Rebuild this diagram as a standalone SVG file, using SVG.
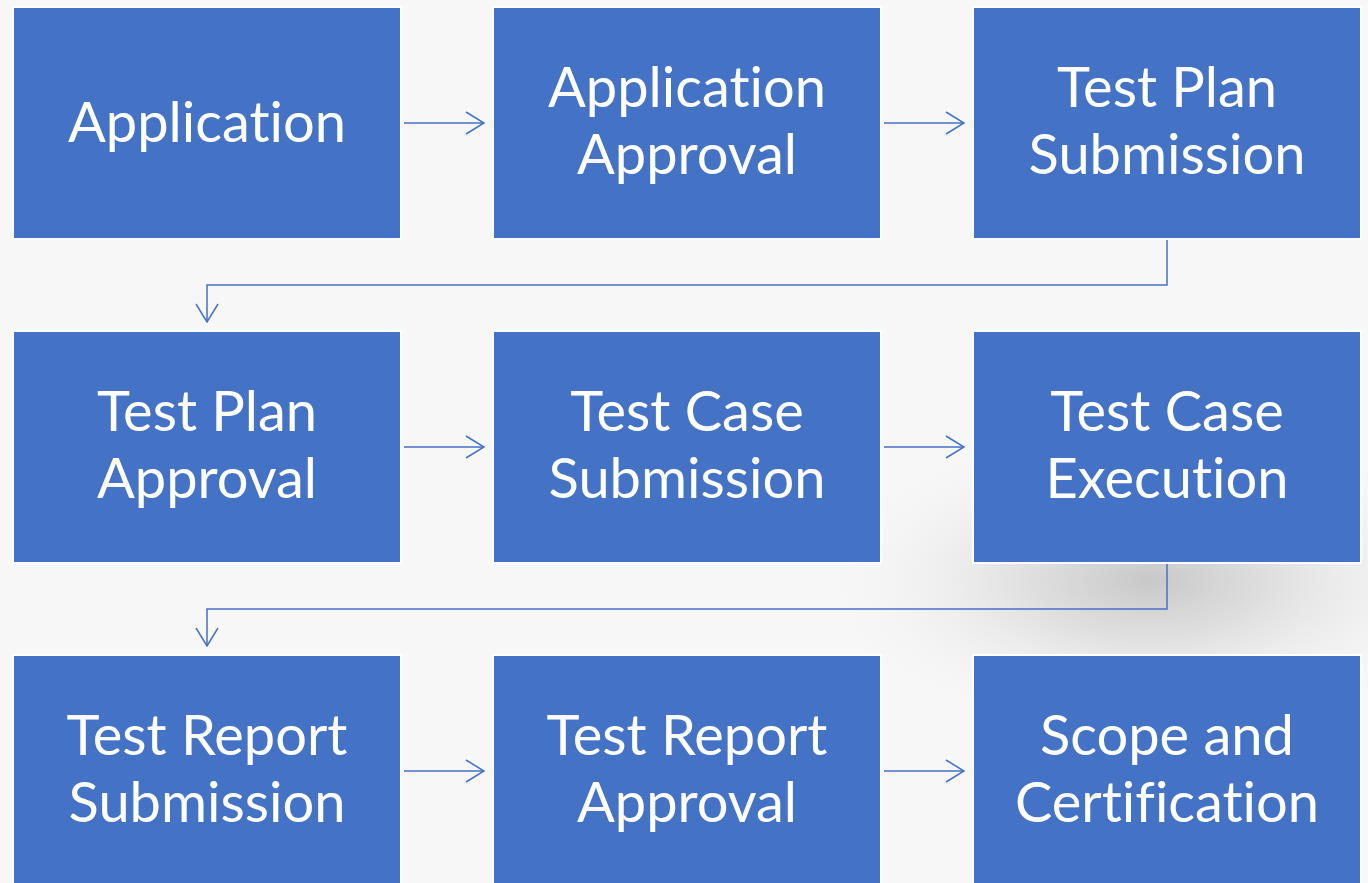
<svg xmlns="http://www.w3.org/2000/svg" width="1368" height="883" viewBox="0 0 1368 883">
  <defs>
    <radialGradient id="shade" cx="1150" cy="580" r="200" gradientUnits="userSpaceOnUse" gradientTransform="translate(1150 580) scale(1.7 0.8) translate(-1150 -580)">
      <stop offset="0" stop-color="#c8c8c8"/>
      <stop offset="0.35" stop-color="#dcdcdc" stop-opacity="0.9"/>
      <stop offset="1" stop-color="#f7f7f7" stop-opacity="0"/>
    </radialGradient>
    <marker id="open" viewBox="0 0 20 24" refX="19" refY="12" markerWidth="20" markerHeight="24" markerUnits="userSpaceOnUse" orient="auto">
      <path d="M1 1 L19 12 L1 23" fill="none" stroke="#4472C4" stroke-width="1.5"/>
    </marker>
    <style>
      .box { fill: #4472C4; stroke: #ffffff; stroke-width: 2; }
      .lbl { fill: #ffffff; font-family: Lato, "Open Sans", sans-serif; font-size: 56px; text-anchor: middle; font-variant-ligatures: none; font-feature-settings: "liga" 0; }
      .conn { fill: none; stroke: #4472C4; stroke-width: 1.5; marker-end: url(#open); }
    </style>
  </defs>

  <!-- background -->
  <rect width="1368" height="883" fill="#f7f7f7"/>
  <rect width="1368" height="883" fill="url(#shade)"/>

  <!-- connectors -->
  <g id="connectors">
    <path class="conn" d="M404 123 H484"/>
    <path class="conn" d="M884 123 H964"/>
    <path class="conn" d="M1167 240 V285 H207 V322"/>
    <path class="conn" d="M404 447 H484"/>
    <path class="conn" d="M884 447 H964"/>
    <path class="conn" d="M1167 564 V609 H207 V646"/>
    <path class="conn" d="M404 771 H484"/>
    <path class="conn" d="M884 771 H964"/>
  </g>

  <!-- row 1 -->
  <g id="application">
    <rect class="box" x="13" y="7" width="388" height="232"/>
    <text class="lbl" x="207" y="142">Application</text>
  </g>
  <g id="application-approval">
    <rect class="box" x="493" y="7" width="388" height="232"/>
    <text class="lbl" x="687" y="107">Application</text>
    <text class="lbl" x="687" y="174">Approval</text>
  </g>
  <g id="test-plan-submission">
    <rect class="box" x="973" y="7" width="388" height="232"/>
    <text class="lbl" x="1167" y="107">Test Plan</text>
    <text class="lbl" x="1167" y="174">Submission</text>
  </g>

  <!-- row 2 -->
  <g id="test-plan-approval">
    <rect class="box" x="13" y="331" width="388" height="232"/>
    <text class="lbl" x="207" y="431">Test Plan</text>
    <text class="lbl" x="207" y="498">Approval</text>
  </g>
  <g id="test-case-submission">
    <rect class="box" x="493" y="331" width="388" height="232"/>
    <text class="lbl" x="687" y="431">Test Case</text>
    <text class="lbl" x="687" y="498">Submission</text>
  </g>
  <g id="test-case-execution">
    <rect class="box" x="973" y="331" width="388" height="232"/>
    <text class="lbl" x="1167" y="431">Test Case</text>
    <text class="lbl" x="1167" y="498">Execution</text>
  </g>

  <!-- row 3 -->
  <g id="test-report-submission">
    <rect class="box" x="13" y="655" width="388" height="240"/>
    <text class="lbl" x="207" y="755">Test Report</text>
    <text class="lbl" x="207" y="822">Submission</text>
  </g>
  <g id="test-report-approval">
    <rect class="box" x="493" y="655" width="388" height="240"/>
    <text class="lbl" x="687" y="755">Test Report</text>
    <text class="lbl" x="687" y="822">Approval</text>
  </g>
  <g id="scope-and-certification">
    <rect class="box" x="973" y="655" width="388" height="240"/>
    <text class="lbl" x="1167" y="755">Scope and</text>
    <text class="lbl" x="1167" y="822">Certification</text>
  </g>
</svg>
